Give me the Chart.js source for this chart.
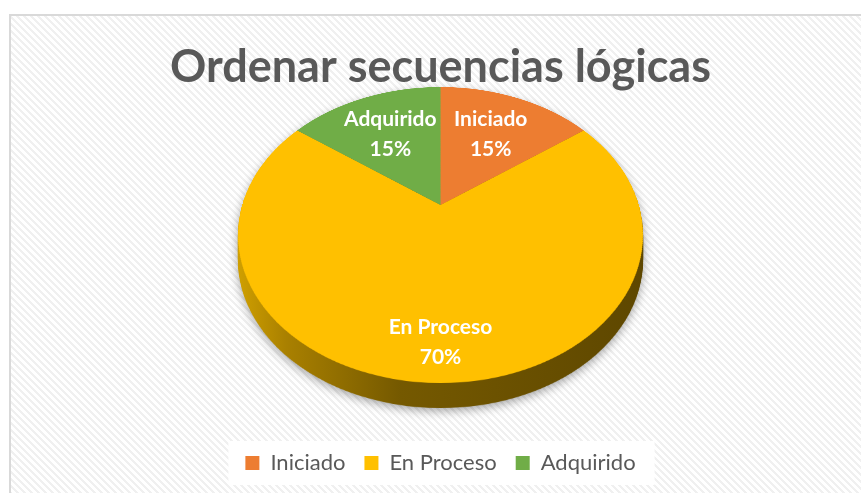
<!DOCTYPE html>
<html><head><meta charset="utf-8">
<script src="https://cdn.jsdelivr.net/npm/chart.js@4/dist/chart.umd.min.js"></script>
<style>html,body{margin:0;padding:0;background:#fff}#c{display:block}</style>
</head><body>
<canvas id="c" width="861" height="493"></canvas>
<script>
// ---- data ----
const TITLE = 'Ordenar secuencias lógicas';
const categories = ['Iniciado', 'En Proceso', 'Adquirido'];
const percentages = [15, 70, 15];

// ---- style ----
const sliceColors = ['#ED7D31', '#FFC000', '#70AD47'];
const labelRadius = [0.62, 0.81, 0.62];
const TILT = {top: 87, mid: 205, bottom: 383, halfWidth: 202.5, depth: 25};
const FONT = 'Lato, "Open Sans", sans-serif';

function tiltParams() {
  const a = TILT.mid - TILT.top, b = TILT.bottom - TILT.mid;
  const c = (a - b) / (a + b);
  return {c, H: a * (1 - c), W: TILT.halfWidth * Math.sqrt(1 - c * c), mid: TILT.mid, top: TILT.top, bottom: TILT.bottom};
}
function project(cx, u, t, P) {
  const d = 1 + P.c * t;
  return {x: cx + P.W * u / d, y: P.mid + P.H * t / d};
}

const backgroundPlugin = {
  id: 'bg',
  beforeDraw(chart) {
    const ctx = chart.ctx;
    ctx.save();
    ctx.fillStyle = '#ffffff';
    ctx.fillRect(0, 0, chart.width, chart.height);
    const p = 7, w = 3;
    const pc = document.createElement('canvas');
    pc.width = p; pc.height = p;
    const px = pc.getContext('2d');
    px.fillStyle = '#ffffff'; px.fillRect(0, 0, p, p);
    px.fillStyle = '#f0f0f0';
    for (let y = 0; y < p; y++) for (let x = 0; x < p; x++) {
      if ((((x - y) % p) + p) % p < w) px.fillRect(x, y, 1, 1);
    }
    ctx.fillStyle = ctx.createPattern(pc, 'repeat');
    ctx.fillRect(10, 15, chart.width, chart.height);
    ctx.strokeStyle = '#d9d9d9';
    ctx.lineWidth = 2;
    ctx.strokeRect(10, 15, chart.width + 20, chart.height + 20);
    // legend white backdrop
    const hb = chart.legend && chart.legend.legendHitBoxes;
    if (hb && hb.length) {
      let l = Infinity, r = -Infinity, t = Infinity, b = -Infinity;
      hb.forEach(h => { l = Math.min(l, h.left); r = Math.max(r, h.left + h.width); t = Math.min(t, h.top); b = Math.max(b, h.top + h.height); });
      ctx.fillStyle = '#ffffff';
      ctx.fillRect(l - 17, t - 11, r - l + 36, b - t + 22);
    }
    ctx.restore();
  }
};

const pie3dPlugin = {
  id: 'pie3d',
  beforeDatasetsDraw(chart) {
    const arcs = chart.getDatasetMeta(0).data;
    if (!arcs.length) return false;
    const a0 = arcs[0];
    const R = a0.outerRadius, S = 2;
    const src = document.createElement('canvas');
    const side = Math.ceil(2 * R * S);
    src.width = side; src.height = side;
    const sc = src.getContext('2d');
    sc.scale(S, S);
    sc.translate(R - a0.x, R - a0.y);
    arcs.forEach(a => a.draw(sc));
    const P = tiltParams();
    const cx = a0.x;
    const face = document.createElement('canvas');
    face.width = chart.width; face.height = chart.height;
    const fc = face.getContext('2d');
    fc.imageSmoothingEnabled = true;
    const tOf = y => (y - P.mid) / (P.H - P.c * (y - P.mid));
    for (let y = Math.floor(P.top) - 1; y <= Math.ceil(P.bottom) + 1; y++) {
      let t0 = tOf(y), t1 = tOf(y + 1);
      if (t1 <= -1 || t0 >= 1) continue;
      const cov = (Math.min(t1, 1) - Math.max(t0, -1)) / (t1 - t0);
      t0 = Math.max(t0, -1); t1 = Math.min(t1, 1);
      const sy0 = (1 + t0) / 2 * side, sy1 = (1 + t1) / 2 * side;
      const tm = (t0 + t1) / 2;
      const half = P.W / (1 + P.c * tm);
      fc.globalAlpha = Math.max(0, Math.min(1, cov));
      fc.drawImage(src, 0, sy0, side, Math.max(sy1 - sy0, 0.5), cx - half, y, 2 * half, 1);
    }
    fc.globalAlpha = 1;
    // side wall
    const sd = document.createElement('canvas');
    sd.width = chart.width; sd.height = chart.height;
    const sdc = sd.getContext('2d');
    for (let d = 1; d <= TILT.depth; d++) sdc.drawImage(face, 0, d);
    sdc.globalCompositeOperation = 'source-in';
    const g = sdc.createLinearGradient(cx - TILT.halfWidth, 0, cx + TILT.halfWidth, 0);
    g.addColorStop(0, '#cf9f00');
    g.addColorStop(0.12, '#a98000');
    g.addColorStop(0.4, '#755900');
    g.addColorStop(1, '#5e4700');
    sdc.fillStyle = g;
    sdc.fillRect(0, 0, sd.width, sd.height);
    const ctx = chart.ctx;
    ctx.save();
    ctx.shadowColor = 'rgba(0,0,0,0.35)';
    ctx.shadowBlur = 10;
    ctx.shadowOffsetY = 3;
    ctx.drawImage(sd, 0, 0);
    ctx.restore();
    ctx.drawImage(face, 0, 0);
    return false;
  },
  afterDraw(chart) {
    const arcs = chart.getDatasetMeta(0).data;
    const P = tiltParams();
    const ctx = chart.ctx;
    ctx.save();
    ctx.fillStyle = '#ffffff';
    ctx.font = 'bold 21px ' + FONT;
    ctx.textAlign = 'center';
    ctx.textBaseline = 'middle';
    arcs.forEach((a, i) => {
      const th = (a.startAngle + a.endAngle) / 2;
      const f = labelRadius[i];
      const p = project(a.x, Math.cos(th) * f, Math.sin(th) * f, P);
      ctx.fillText(categories[i], p.x, p.y - 15);
      ctx.fillText(percentages[i] + '%', p.x, p.y + 15);
    });
    ctx.restore();
  }
};

new Chart(document.getElementById('c'), {
  type: 'pie',
  data: {
    labels: categories,
    datasets: [{data: percentages, backgroundColor: sliceColors, borderWidth: 0}]
  },
  options: {
    responsive: false,
    animation: false,
    devicePixelRatio: 1,
    layout: {padding: {top: 15, left: 20, right: 0, bottom: 9}},
    plugins: {
      tooltip: {enabled: false},
      title: {
        display: true, text: TITLE, color: '#595959',
        font: {family: FONT, size: 45, weight: 'bold'},
        padding: {top: 25, bottom: 10}
      },
      legend: {
        position: 'bottom',
        labels: {
          boxWidth: 14, boxHeight: 14, padding: 19, color: '#595959',
          font: {family: FONT, size: 22}
        }
      }
    }
  },
  plugins: [backgroundPlugin, pie3dPlugin]
});
</script>
</body></html>
